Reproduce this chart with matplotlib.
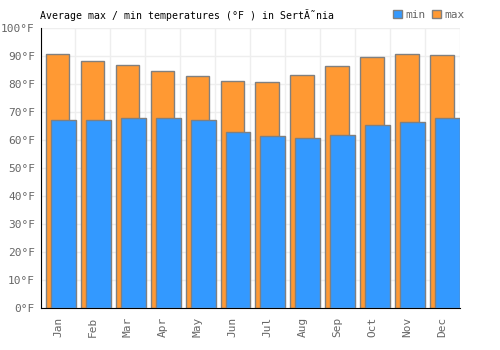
import numpy as np
import matplotlib
matplotlib.use("Agg")
import matplotlib.pyplot as plt
from matplotlib.patches import Patch

months = ["Jan", "Feb", "Mar", "Apr", "May", "Jun",
          "Jul", "Aug", "Sep", "Oct", "Nov", "Dec"]
temp_max = [90.7, 88.2, 86.8, 84.6, 82.9, 81.1, 80.7, 83.2, 86.4, 89.6, 90.7, 90.4]
temp_min = [67.4, 67.4, 67.9, 67.9, 67.4, 62.9, 61.4, 60.7, 61.8, 65.4, 66.4, 67.9]
yticks = [0, 10, 20, 30, 40, 50, 60, 70, 80, 90, 100]

BLUE = "#3399ff"
ORANGE = "#ff9933"
EDGE = "#808080"
GREY = "#666666"
MONO = "DejaVu Sans Mono"

fig = plt.figure(figsize=(5, 3.5), dpi=100)
ax = fig.add_axes([0.081, 0.119, 0.839, 0.8])

x = np.arange(len(months))
ax.bar(x - 0.015, temp_max, width=0.67, color=ORANGE, edgecolor=EDGE,
       linewidth=1, zorder=2)
ax.bar(x + 0.15, temp_min, width=0.714, color=BLUE, edgecolor=EDGE,
       linewidth=1, zorder=3)

ax.set_xlim(-0.5, len(months) - 0.5)
ax.set_ylim(0, 100)
ax.set_yticks(yticks)
ax.set_yticklabels([f"{v}°F" for v in yticks], fontsize=8, color=GREY,
                   family=MONO)
ax.set_xticks(x)
ax.set_xticklabels(months, rotation=90, fontsize=8, color=GREY, family=MONO)
ax.set_xticks(np.arange(len(months) + 1) - 0.5, minor=True)
ax.tick_params(which="both", length=0)
ax.tick_params(axis="y", pad=4)
ax.tick_params(axis="x", pad=6)

ax.grid(axis="y", color="#eeeeee", linewidth=1, zorder=0)
ax.grid(axis="x", which="minor", color="#eeeeee", linewidth=1, zorder=0)
ax.grid(axis="x", which="major", visible=False)
ax.set_axisbelow(True)

for s in ["top", "right"]:
    ax.spines[s].set_visible(False)
ax.spines["left"].set_color("black")
ax.spines["bottom"].set_color("black")

fig.text(0.08, 0.957, "Average max / min temperatures (°F ) in SertÃ˜nia",
         fontsize=7.1, family=MONO, color="black", va="center")

handles = [Patch(facecolor=BLUE, edgecolor=EDGE, label="min"),
           Patch(facecolor=ORANGE, edgecolor=EDGE, label="max")]
fig.legend(handles=handles, loc="center right", bbox_to_anchor=(0.94, 0.957),
           ncol=2, frameon=False, handlelength=0.8, handleheight=0.8,
           handletextpad=0.3, columnspacing=0.6, borderpad=0,
           prop={"family": MONO, "size": 8}, labelcolor=GREY)

fig.savefig("out.png", dpi=100)
